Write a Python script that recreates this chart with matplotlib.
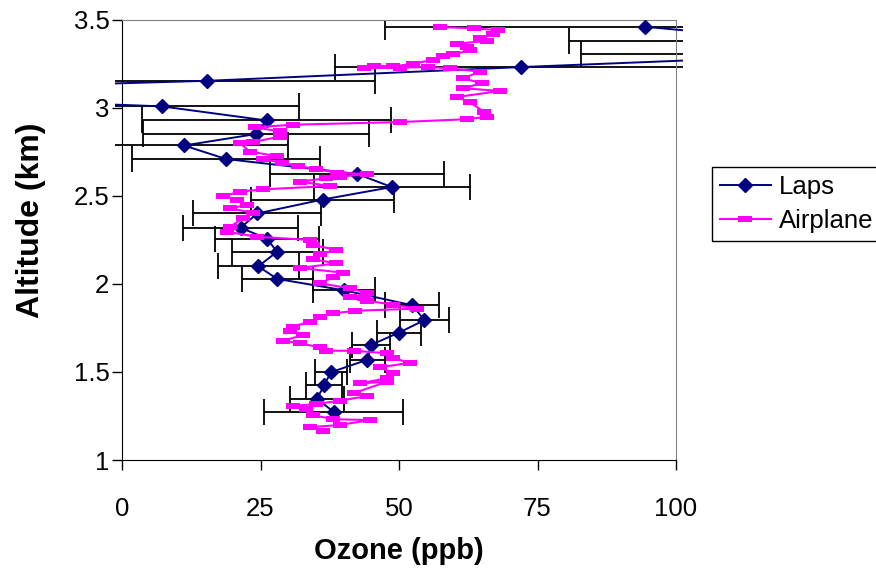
import matplotlib
matplotlib.use('Agg')
import matplotlib.pyplot as plt
from matplotlib.patches import Rectangle

plt.rcParams['font.family'] = ['Liberation Sans', 'DejaVu Sans']

# Laps profile (ozone ppb, altitude km, x error)
laps_ozone = [94.4, 122.0, 130.0, 72.0, 15.4, -60.0, 7.2, 26.1, 24.2, 11.2, 18.8,
              42.4, 48.7, 36.2, 24.4, 21.4, 26.1, 28.0, 24.6, 28.0, 40.1, 52.4,
              54.6, 50.0, 45.0, 44.3, 37.7, 36.5, 35.2, 38.2]
laps_alt = [3.459, 3.378, 3.303, 3.230, 3.152, 3.085, 3.007, 2.927, 2.850, 2.785, 2.708,
            2.624, 2.549, 2.478, 2.399, 2.318, 2.257, 2.182, 2.099, 2.028, 1.963, 1.878,
            1.794, 1.723, 1.654, 1.569, 1.498, 1.425, 1.348, 1.273]
laps_err = [47.0, 41.3, 47.1, 33.5, 30.3, 25.0, 24.7, 22.5, 20.4, 18.7, 17.0,
            15.7, 14.1, 12.9, 11.5, 10.3, 9.4, 8.2, 7.3, 6.4, 5.6, 4.9,
            4.4, 4.0, 3.4, 3.2, 2.9, 3.3, 4.9, 12.5]

# Airplane profile (ozone ppb, altitude km)
plane_ozone = [57.4, 63.6, 67.9, 67.0, 64.7, 65.8, 60.4, 62.2, 62.8, 59.8, 58.0, 56.2,
               52.6, 49.0, 45.4, 43.6, 50.2, 55.3, 59.2, 64.6, 61.6, 64.9, 61.6, 68.2,
               60.4, 62.8, 65.3, 65.8, 62.2, 50.2, 30.9, 24.0, 28.5, 28.5, 23.7, 21.3,
               23.1, 27.9, 25.5, 28.8, 31.8, 35.1, 38.8, 44.2, 39.4, 36.9, 32.1, 37.5,
               25.5, 21.3, 18.3, 20.7, 22.5, 19.5, 23.7, 21.9, 19.5, 18.9, 24.3, 33.9,
               34.5, 38.7, 35.7, 34.5, 38.7, 32.1, 39.9, 38.1, 35.7, 41.2, 44.2, 43.6,
               41.2, 44.2, 49.0, 53.2, 42.1, 38.1, 35.7, 33.9, 30.9, 30.3, 32.7, 29.1,
               32.1, 35.7, 36.9, 41.8, 47.8, 49.0, 52.0, 46.6, 49.0, 47.8, 43.0, 47.8,
               41.8, 44.2, 39.4, 35.1, 30.9, 33.3, 34.5, 38.1, 44.8, 39.4, 33.9, 36.3]
plane_alt = [3.457, 3.450, 3.439, 3.416, 3.393, 3.378, 3.363, 3.344, 3.325, 3.302, 3.291, 3.272,
             3.249, 3.234, 3.238, 3.223, 3.227, 3.230, 3.223, 3.204, 3.166, 3.138, 3.110, 3.094,
             3.060, 3.030, 2.977, 2.948, 2.934, 2.918, 2.903, 2.888, 2.865, 2.835, 2.805, 2.797,
             2.750, 2.725, 2.707, 2.687, 2.669, 2.650, 2.631, 2.623, 2.608, 2.599, 2.580, 2.555,
             2.536, 2.523, 2.498, 2.476, 2.447, 2.428, 2.403, 2.372, 2.324, 2.296, 2.267, 2.249,
             2.220, 2.192, 2.169, 2.139, 2.116, 2.090, 2.063, 2.037, 2.003, 1.974, 1.949, 1.918,
             1.927, 1.904, 1.881, 1.859, 1.847, 1.832, 1.813, 1.785, 1.757, 1.734, 1.709, 1.677,
             1.662, 1.640, 1.620, 1.620, 1.606, 1.577, 1.552, 1.526, 1.492, 1.464, 1.435, 1.444,
             1.379, 1.363, 1.337, 1.318, 1.307, 1.288, 1.255, 1.231, 1.227, 1.199, 1.186, 1.167]

x_ticks = [0, 25, 50, 75, 100]
y_ticks = [1, 1.5, 2, 2.5, 3, 3.5]

fig = plt.figure(figsize=(8.76, 5.74), dpi=100)
ax = fig.add_axes([122 / 876, 1 - 460 / 574, 554 / 876, 440.5 / 574])

# Excel lets the data spill a few pixels past the axis lines
clip = Rectangle((-7 / 554, 0), 1 + 14 / 554, 1, transform=ax.transAxes)

eb = ax.errorbar(laps_ozone, laps_alt, xerr=laps_err, fmt='none', ecolor='black',
                 elinewidth=1.3, capsize=9.5, capthick=1.3, zorder=2)
laps_line, = ax.plot(laps_ozone, laps_alt, color='#000080', linewidth=1.4, marker='D',
                     markersize=6.8, label='Laps', zorder=3)

rect = [(-1, -0.45), (1, -0.45), (1, 0.45), (-1, 0.45), (-1, -0.45)]
plane_line, = ax.plot(plane_ozone, plane_alt, color='#FF00FF', linewidth=1.5, marker=rect,
                      markersize=10.5, markeredgewidth=0, label='Airplane', zorder=4)

for artist in list(eb.lines[1]) + list(eb.lines[2]) + [laps_line, plane_line]:
    artist.set_clip_path(clip)

ax.set_xlim(0, 100)
ax.set_ylim(1, 3.5)
ax.set_xticks(x_ticks)
ax.set_yticks(y_ticks)
ax.set_yticklabels(['1', '1.5', '2', '2.5', '3', '3.5'])
ax.tick_params(axis='both', direction='out', length=7, width=1, labelsize=18.5)
ax.tick_params(axis='x', pad=20)
ax.tick_params(axis='y', pad=2)

for side in ['top', 'right']:
    ax.spines[side].set_color('#808080')
for side in ['left', 'bottom']:
    ax.spines[side].set_color('black')

ax.set_xlabel('Ozone (ppb)', fontsize=21, fontweight='bold', labelpad=11)
ax.set_ylabel('Altitude (km)', fontsize=23, fontweight='bold')
ax.yaxis.set_label_coords(-0.137, 0.544)

leg = ax.legend(handles=[laps_line, plane_line], loc='center left',
                bbox_to_anchor=(712 / 876, 1 - 204 / 574), bbox_transform=fig.transFigure,
                fontsize=18.5, frameon=True, fancybox=False, framealpha=1,
                edgecolor='black', handlelength=2.0, handletextpad=0.3,
                borderpad=0.3, labelspacing=0.4, borderaxespad=0)
leg.get_frame().set_linewidth(1)

plt.savefig('out.png', dpi=100)
